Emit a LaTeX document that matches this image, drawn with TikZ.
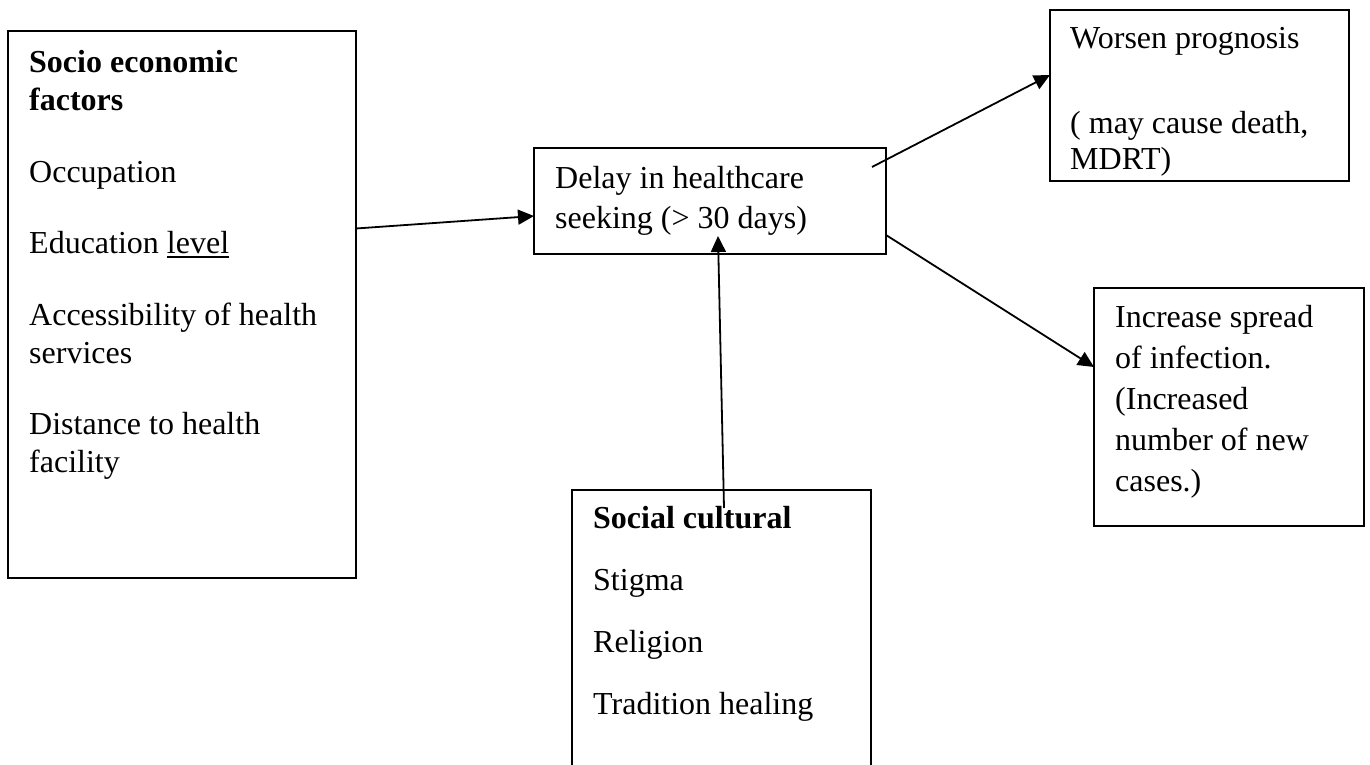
\documentclass[tikz,border=0pt]{standalone}
\usepackage{fontspec}
\setmainfont{Liberation Serif}
\usetikzlibrary{arrows.meta,calc}
\newcommand\ulword[1]{\setbox0=\hbox{#1}\dimen0=\wd0\rlap{\box0}\rule[-5pt]{\dimen0}{1.6pt}}
\begin{document}
\begin{tikzpicture}[x=1pt,y=-1pt,
  box/.style={draw, line width=1.8pt, inner sep=0pt, outer sep=0pt},
  txt/.style={anchor=base west, inner sep=0pt, font=\fontsize{32}{38}\selectfont},
  btxt/.style={txt, font=\fontsize{32}{38}\selectfont\bfseries},
  conn/.style={line width=1.8pt, -{Triangle[length=16pt,width=15pt]}}]
\useasboundingbox (0,0) rectangle (1370,765);
% boxes
\node[box, minimum width=348pt, minimum height=547pt] (se) at (182,304.5) {};
\node[box, minimum width=352pt, minimum height=106pt] (delay) at (710,201) {};
\node[box, minimum width=299pt, minimum height=171pt] (worsen) at (1199.5,95.5) {};
\node[box, minimum width=270pt, minimum height=238pt] (incr) at (1229,407) {};
\node[box, minimum width=299pt, minimum height=290pt] (sc) at (721.5,635) {};
% texts: socio economic
\node[btxt] (se1) at (29,73) {Socio economic};
\node[btxt] (se2) at (29,111) {factors};
\node[txt] (se3) at (29,182) {Occupation};
\node[txt] (se4) at (29,253) {Education \ulword{level}};
\node[txt] (se5) at (29,325) {Accessibility of health};
\node[txt] (se6) at (29,363) {services};
\node[txt] (se7) at (29,434) {Distance to health};
\node[txt] (se8) at (29,472) {facility};
% delay
\node[txt] (d1) at (555,188) {Delay in healthcare};
\node[txt] (d2) at (555,228) {seeking (> 30 days)};
% worsen
\node[txt] (w1) at (1070,49) {Worsen prognosis};
\node[txt] (w2) at (1070,133) {( may cause death,};
\node[txt] (w3) at (1070,169) {MDRT)};
% increase
\node[txt] (i1) at (1115,327) {Increase spread};
\node[txt] (i2) at (1115,368) {of infection.};
\node[txt] (i3) at (1115,409) {(Increased};
\node[txt] (i4) at (1115,450) {number of new};
\node[txt] (i5) at (1115,491) {cases.)};
% social cultural
\node[btxt] (s1) at (593,528) {Social cultural};
\node[txt] (s2) at (593,590) {Stigma};
\node[txt] (s3) at (593,652) {Religion};
\node[txt] (s4) at (593,714) {Tradition healing};
% connectors
\coordinate (upS) at (724,508);
\coordinate (upE) at (718,236);
\coordinate (wS) at (872,167);
\draw[conn] ($(se.east)+(0,-76)$) -- ($(delay.west)+(0,15)$);
\draw[conn] (upS) -- (upE);
\draw[conn] (wS) -- ($(worsen.west)+(0,-20.5)$);
\draw[conn] ($(delay.east)+(0,34)$) -- ($(incr.west)+(0,-40)$);
\end{tikzpicture}
\end{document}
